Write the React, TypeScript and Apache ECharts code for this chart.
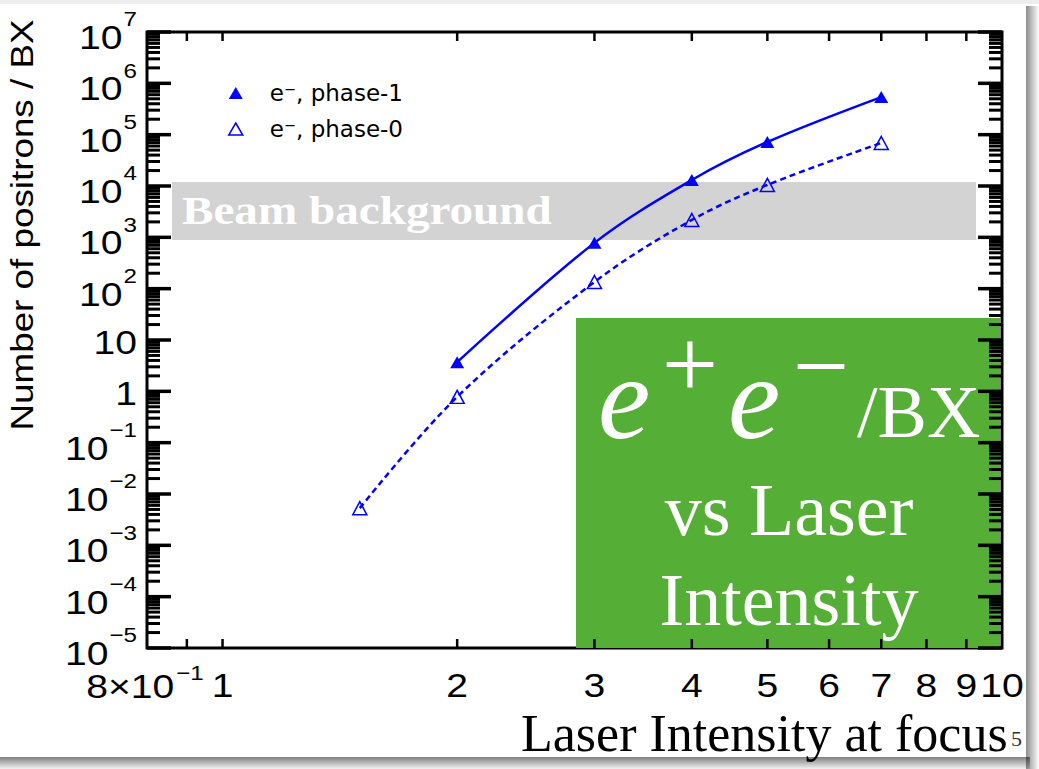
import React, { useEffect, useRef } from "react";
import * as echarts from "echarts";

// ---- data ----
const X_PHASE1 = [2, 3, 4, 5, 7];
const Y_PHASE1 = [3.7, 780, 13100, 72000, 540000];
const X_PHASE0 = [1.5, 2, 3, 4, 5, 7];
const Y_PHASE0 = [0.0053, 0.78, 135, 2180, 10500, 68900];

const SERIES_NAMES = ["e⁻, phase-1", "e⁻, phase-0"];

// ---- axes ----
const X_MIN = 0.8;
const X_MAX = 10;
const Y_MIN = 1e-5;
const Y_MAX = 1e7;
const Y_EXPONENTS = [-5, -4, -3, -2, -1, 0, 1, 2, 3, 4, 5, 6, 7];
const Y_MINOR_MULTIPLES = [2, 3, 4, 5, 6, 7, 8, 9];
const X_TICKS = [0.9, 1, 2, 3, 4, 5, 6, 7, 8, 9];
const X_LABEL_VALUES = [0.8, 1, 2, 3, 4, 5, 6, 7, 8, 9, 10];
const X_LABEL_BASE = ["8×10", "1", "2", "3", "4", "5", "6", "7", "8", "9", "10"];
const X_LABEL_SUP = ["−1", "", "", "", "", "", "", "", "", "", ""];

const Y_TITLE = "Number of positrons / BX";
const X_TITLE = "Laser Intensity at focus";
const BAND_TEXT = "Beam background";

const BLUE = "#0000ff";
const SANS = '"Liberation Sans", Arial, Helvetica, sans-serif';
const SERIF = '"Liberation Serif", "Times New Roman", serif';
const SX = 1.15;
const BASE_FONT = `34px ${SANS}`;
const SUP_FONT = `21px ${SANS}`;

let measureCtx: CanvasRenderingContext2D | null = null;
function measure(text: string, font: string): number {
  if (!measureCtx) measureCtx = document.createElement("canvas").getContext("2d");
  if (!measureCtx) return text.length * 10;
  measureCtx.font = font;
  return measureCtx.measureText(text).width;
}

function yBase(e: number) {
  return e === 0 ? "1" : "10";
}
function ySup(e: number) {
  if (e === 0 || e === 1) return "";
  return e < 0 ? "−" + -e : String(e);
}

function txt(text: string, x: number, y: number, font: string, align: string, extra: any = {}) {
  return {
    type: "text",
    x,
    y,
    scaleX: SX,
    style: { text, font, fill: "#000", align, verticalAlign: "middle" },
    ...extra,
  };
}

export default function App() {
  const ref = useRef<HTMLDivElement>(null);

  useEffect(() => {
    if (!ref.current) return;
    const chart = echarts.init(ref.current, undefined, { renderer: "svg" });

    const yMajorData = Y_EXPONENTS.map((e) => [X_MIN, Math.pow(10, e)]);
    const yMinorData: number[][] = [];
    Y_EXPONENTS.slice(0, -1).forEach((e) =>
      Y_MINOR_MULTIPLES.forEach((m) => yMinorData.push([X_MIN, m * Math.pow(10, e)]))
    );
    const xTickData = X_TICKS.map((v) => [v, Y_MIN]);
    const xLabelData = X_LABEL_VALUES.map((v) => [v, Y_MIN]);

    const option: any = {
      animation: false,
      backgroundColor: "#ffffff",
      grid: {
        show: true,
        left: 147,
        right: 37,
        top: 32,
        bottom: 121,
        borderColor: "#000",
        borderWidth: 3,
        backgroundColor: "transparent",
      },
      xAxis: {
        type: "log",
        logBase: 10,
        min: X_MIN,
        max: X_MAX,
        axisLine: { show: false },
        axisTick: { show: false },
        axisLabel: { show: false },
        splitLine: { show: false },
      },
      yAxis: {
        type: "log",
        logBase: 10,
        min: Y_MIN,
        max: Y_MAX,
        axisLine: { show: false },
        axisTick: { show: false },
        axisLabel: { show: false },
        splitLine: { show: false },
      },
      legend: {
        orient: "vertical",
        left: 223,
        top: 75,
        itemWidth: 14,
        itemHeight: 12,
        itemGap: 10,
        selectedMode: false,
        textStyle: {
          fontFamily: '"DejaVu Sans", sans-serif',
          fontSize: 23,
          color: "#000",
          lineHeight: 26,
          padding: [0, 0, 0, 22],
        },
        data: [
          { name: SERIES_NAMES[0], icon: "triangle", itemStyle: { color: BLUE } },
          {
            name: SERIES_NAMES[1],
            icon: "triangle",
            itemStyle: { color: "rgba(255,255,255,0)", borderColor: BLUE, borderWidth: 1.5 },
          },
        ],
      },
      series: [
        {
          type: "line",
          name: SERIES_NAMES[0],
          data: X_PHASE1.map((x, i) => [x, Y_PHASE1[i]]),
          symbol: "triangle",
          symbolSize: [14, 12],
          smooth: 0.35,
          lineStyle: { color: BLUE, width: 2.5 },
          itemStyle: { color: BLUE },
          emphasis: { disabled: true },
          silent: true,
          z: 3,
        },
        {
          type: "line",
          name: SERIES_NAMES[1],
          data: X_PHASE0.map((x, i) => [x, Y_PHASE0[i]]),
          symbol: "triangle",
          symbolSize: [14, 13],
          smooth: 0.35,
          lineStyle: { color: BLUE, width: 2.5, type: [6, 4] },
          itemStyle: { color: "rgba(255,255,255,0)", borderColor: BLUE, borderWidth: 1.5 },
          emphasis: { disabled: true },
          silent: true,
          z: 3,
        },
        // major y ticks + labels
        {
          type: "custom",
          coordinateSystem: "cartesian2d",
          encode: { x: 0, y: 1 },
          silent: true,
          clip: false,
          z: 5,
          data: yMajorData,
          renderItem: (params: any, api: any) => {
            const i = params.dataIndex;
            const e = Y_EXPONENTS[i];
            const y = api.coord([X_MIN, api.value(1)])[1];
            const cs = params.coordSys;
            const L = cs.x;
            const R = cs.x + cs.width;
            const LX = L - 10;
            const children: any[] = [
              { type: "line", shape: { x1: L, y1: y, x2: L + 24, y2: y }, style: { stroke: "#000", lineWidth: 3.5 } },
              { type: "line", shape: { x1: R - 24, y1: y, x2: R, y2: y }, style: { stroke: "#000", lineWidth: 3.5 } },
            ];
            const base = yBase(e);
            const sup = ySup(e);
            if (sup) {
              const sw = measure(sup, SUP_FONT) * SX;
              children.push(txt(sup, LX, y - 12.5, SUP_FONT, "right"));
              children.push(txt(base, LX - sw - 1, y + 5.5, BASE_FONT, "right"));
            } else {
              children.push(txt(base, LX, y + 2, BASE_FONT, "right"));
            }
            return { type: "group", children };
          },
        },
        // minor y ticks
        {
          type: "custom",
          coordinateSystem: "cartesian2d",
          encode: { x: 0, y: 1 },
          silent: true,
          clip: false,
          z: 5,
          data: yMinorData,
          renderItem: (params: any, api: any) => {
            const y = api.coord([X_MIN, api.value(1)])[1];
            const cs = params.coordSys;
            const L = cs.x;
            const R = cs.x + cs.width;
            return {
              type: "group",
              children: [
                { type: "line", shape: { x1: L, y1: y, x2: L + 13, y2: y }, style: { stroke: "#000", lineWidth: 3 } },
                { type: "line", shape: { x1: R - 13, y1: y, x2: R, y2: y }, style: { stroke: "#000", lineWidth: 3 } },
              ],
            };
          },
        },
        // x ticks (bottom & top)
        {
          type: "custom",
          coordinateSystem: "cartesian2d",
          encode: { x: 0, y: 1 },
          silent: true,
          clip: false,
          z: 5,
          data: xTickData,
          renderItem: (params: any, api: any) => {
            const x = api.coord([api.value(0), Y_MIN])[0];
            const cs = params.coordSys;
            const T = cs.y;
            const B = cs.y + cs.height;
            return {
              type: "group",
              children: [
                { type: "line", shape: { x1: x, y1: B, x2: x, y2: B - 9 }, style: { stroke: "#000", lineWidth: 2.5 } },
                { type: "line", shape: { x1: x, y1: T, x2: x, y2: T + 9 }, style: { stroke: "#000", lineWidth: 2.5 } },
              ],
            };
          },
        },
        // x labels
        {
          type: "custom",
          coordinateSystem: "cartesian2d",
          encode: { x: 0, y: 1 },
          silent: true,
          clip: false,
          z: 5,
          data: xLabelData,
          renderItem: (params: any, api: any) => {
            const i = params.dataIndex;
            const x = api.coord([api.value(0), Y_MIN])[0];
            const cs = params.coordSys;
            const B = cs.y + cs.height;
            const ly = B + 37;
            const base = X_LABEL_BASE[i];
            const sup = X_LABEL_SUP[i];
            if (sup) {
              const bw = measure(base, BASE_FONT) * SX;
              const sw = measure(sup, SUP_FONT) * SX;
              const left = x - (bw + sw + 2) / 2 - 2;
              return {
                type: "group",
                children: [
                  txt(base, left, ly + 1, BASE_FONT, "left"),
                  txt(sup, left + bw + 2, ly - 12, SUP_FONT, "left"),
                ],
              };
            }
            return txt(base, x, ly, BASE_FONT, "center");
          },
        },
      ],
      graphic: [
        // slide shadow
        {
          type: "rect",
          shape: { x: 0, y: 0, width: 1039, height: 4 },
          style: { fill: "#eeeeee" },
          z: 0,
          silent: true,
        },
        {
          type: "rect",
          shape: { x: 1026, y: 6, width: 13, height: 763 },
          style: {
            fill: new echarts.graphic.LinearGradient(0, 0, 1, 0, [
              { offset: 0, color: "rgba(0,0,0,0.45)" },
              { offset: 1, color: "rgba(0,0,0,0)" },
            ]),
          },
          z: 0,
          silent: true,
        },
        {
          type: "rect",
          shape: { x: 0, y: 757, width: 1030, height: 12 },
          style: {
            fill: new echarts.graphic.LinearGradient(0, 0, 0, 1, [
              { offset: 0, color: "rgba(0,0,0,0.5)" },
              { offset: 1, color: "rgba(0,0,0,0.05)" },
            ]),
          },
          z: 0,
          silent: true,
        },
        // beam background band
        {
          type: "rect",
          shape: { x: 172, y: 182, width: 804, height: 58 },
          style: { fill: "#d3d3d3" },
          z: 1,
          silent: true,
        },
        {
          type: "text",
          x: 182,
          y: 211,
          scaleX: SX,
          style: {
            text: BAND_TEXT,
            font: `bold 41px ${SERIF}`,
            fill: "#ffffff",
            align: "left",
            verticalAlign: "middle",
          },
          z: 1,
          silent: true,
        },
        // y title
        {
          type: "text",
          x: 22,
          y: 225,
          rotation: Math.PI / 2,
          scaleX: SX,
          style: {
            text: Y_TITLE,
            font: `32px ${SANS}`,
            fill: "#000",
            align: "center",
            verticalAlign: "middle",
          },
          silent: true,
        },
        // x title
        {
          type: "text",
          x: 521,
          y: 733,
          style: {
            text: X_TITLE,
            font: `52px ${SERIF}`,
            fill: "#000",
            align: "left",
            verticalAlign: "middle",
          },
          silent: true,
        },
        {
          type: "text",
          x: 1011,
          y: 738,
          style: {
            text: "5",
            font: `22px ${SERIF}`,
            fill: "#333",
            align: "left",
            verticalAlign: "middle",
          },
          silent: true,
        },
        // green annotation box
        {
          type: "group",
          z: 100,
          silent: true,
          children: [
            {
              type: "rect",
              shape: { x: 576, y: 318, width: 424, height: 330 },
              style: { fill: "#55ae35" },
            },
            {
              type: "text",
              x: 598,
              y: 398,
              style: { text: "e", font: `italic 118px ${SERIF}`, fill: "#fff", align: "left", verticalAlign: "middle" },
            },
            {
              type: "text",
              x: 690,
              y: 364,
              style: { text: "+", font: `100px ${SERIF}`, fill: "#fff", align: "center", verticalAlign: "middle" },
            },
            {
              type: "text",
              x: 728,
              y: 398,
              style: { text: "e", font: `italic 118px ${SERIF}`, fill: "#fff", align: "left", verticalAlign: "middle" },
            },
            {
              type: "text",
              x: 821,
              y: 366,
              style: { text: "−", font: `100px ${SERIF}`, fill: "#fff", align: "center", verticalAlign: "middle" },
            },
            {
              type: "text",
              x: 857,
              y: 412,
              style: { text: "/BX", font: `74px ${SERIF}`, fill: "#fff", align: "left", verticalAlign: "middle" },
            },
            {
              type: "text",
              x: 789,
              y: 510,
              style: { text: "vs Laser", font: `74px ${SERIF}`, fill: "#fff", align: "center", verticalAlign: "middle" },
            },
            {
              type: "text",
              x: 789,
              y: 600,
              style: { text: "Intensity", font: `74px ${SERIF}`, fill: "#fff", align: "center", verticalAlign: "middle" },
            },
          ],
        },
      ],
    };

    chart.setOption(option);
    return () => chart.dispose();
  }, []);

  return (
    <div
      ref={ref}
      style={{ position: "fixed", left: 0, top: 0, width: 1039, height: 769, background: "#fff" }}
    />
  );
}
